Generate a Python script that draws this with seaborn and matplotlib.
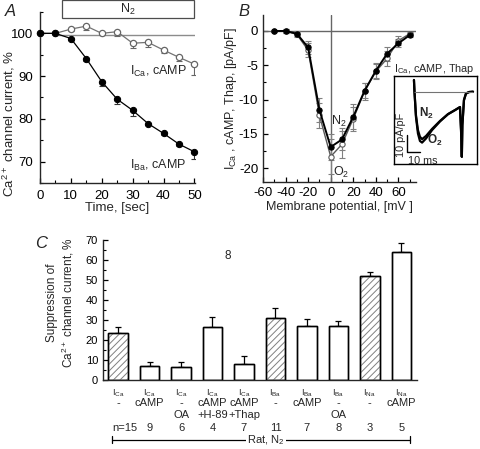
import matplotlib
matplotlib.use('Agg')
import numpy as np
import pandas as pd
import matplotlib.pyplot as plt
from matplotlib.patches import Rectangle
from matplotlib.ticker import MultipleLocator
import seaborn as sns

# Panel A: time course under N2 (% of control)
time_s = [0, 5, 10, 15, 20, 25, 30, 35, 40, 45, 50]
ica_camp = [100, 100, 101.0, 101.7, 100.0, 100.4, 97.7, 97.9, 96.1, 94.4, 92.8]
ica_camp_err = [0, 0, 0.4, 0.9, 0.3, 0.9, 1.1, 1.1, 0.8, 0.9, 2.6]
iba_camp = [100, 100, 98.8, 94.1, 88.7, 84.6, 82.0, 78.9, 76.6, 74.1, 72.3]
iba_camp_err = [0, 0, 0.3, 0.5, 1.0, 1.2, 1.4, 0.4, 0.4, 0.4, 1.6]

# Panel B: I-V curves
voltage_mv = [-50, -40, -30, -20, -10, 0, 10, 20, 30, 40, 50, 60, 70]
iv_n2 = [0, 0, -0.4, -2.4, -11.5, -16.9, -15.8, -12.5, -8.7, -5.8, -3.3, -1.8, -0.6]
iv_n2_err = [0.1, 0.3, 0.4, 1.0, 1.8, 1.9, 1.6, 1.8, 1.1, 1.1, 1.0, 0.6, 0.3]
iv_o2 = [0, 0, -0.5, -2.8, -12.3, -18.3, -16.5, -12.8, -8.8, -5.9, -4.0, -1.4, -0.4]
iv_o2_err = [0.1, 0.3, 0.4, 1.0, 1.8, 2.5, 2.0, 1.7, 1.2, 1.1, 1.1, 0.7, 0.3]

# inset current trace (ms, pA/pF)
trace_t = [15.0, 15.4, 16.5, 18.0, 19.5, 21.1, 24.1, 28.6, 34.6, 40.6, 45.9, 49.6,
           50.4, 51.0, 51.4, 52.6, 54.1, 56.4, 59.4]
trace_n2 = [7.0, 0, -14, -23, -27, -28.4, -26.5, -22.3, -17.5, -13.4, -11.0, -9.2,
            -23, -39, -20, -5, -1.1, -0.2, 0]
trace_o2 = [7.0, 0, -15, -25, -29.5, -30.5, -28.0, -23.0, -17.8, -13.5, -11.0, -9.2,
            -23, -39, -20, -5, -1.1, -0.2, 0]

# Panel C: suppression by N2
cond_current = ['I$_{Ca}$'] * 5 + ['I$_{Ba}$'] * 3 + ['I$_{Na}$'] * 2
cond_camp = ['-', 'cAMP', '-', 'cAMP', 'cAMP', '-', 'cAMP', '-', '-', 'cAMP']
cond_extra = ['', '', 'OA', '+H-89', '+Thap', '', '', 'OA', '', '']
n_cells = ['n=15', '9', '6', '4', '7', '11', '7', '8', '3', '5']
suppression = [23.3, 7.0, 6.7, 26.3, 8.0, 31.2, 27.2, 27.2, 52.2, 64.2]
suppression_err = [3.0, 2.2, 2.1, 5.0, 4.2, 5.0, 3.1, 2.3, 2.0, 4.1]
hatched = [True, False, False, False, False, True, False, False, True, False]

sns.set_style('ticks')
plt.rcParams['font.family'] = ['Liberation Sans', 'DejaVu Sans']
plt.rcParams['mathtext.default'] = 'regular'
plt.rcParams['axes.unicode_minus'] = False
plt.rcParams['hatch.linewidth'] = 0.7
plt.rcParams['axes.linewidth'] = 1.0

W, H = 480, 449
fig = plt.figure(figsize=(4.8, 4.49), dpi=100)


def px_axes(x0, y0, x1, y1):
    return fig.add_axes([x0 / W, 1 - y1 / H, (x1 - x0) / W, (y1 - y0) / H])


def style(ax, pad):
    sns.despine(ax=ax)
    ax.tick_params(which='both', direction='in', colors='black', pad=pad)
    ax.tick_params(which='major', length=3.5, width=0.9)
    ax.tick_params(which='minor', length=2, width=0.8)


# ---- A ----
axA = px_axes(40, 12, 195, 183)
sns.lineplot(x=time_s, y=ica_camp, ax=axA, color='0.45', lw=0.9, marker='o',
             markersize=4.5, markerfacecolor='white', markeredgecolor='0.4',
             markeredgewidth=0.9, clip_on=False, zorder=4)
sns.lineplot(x=time_s, y=iba_camp, ax=axA, color='black', lw=0.9, marker='o',
             markersize=4.5, markerfacecolor='black', markeredgecolor='black',
             clip_on=False, zorder=4)
axA.errorbar(time_s, ica_camp, yerr=[ica_camp_err, np.zeros(len(time_s))], fmt='none',
             ecolor='0.4', elinewidth=0.8, capsize=2, capthick=0.8, zorder=3)
axA.errorbar(time_s, iba_camp, yerr=[iba_camp_err, np.zeros(len(time_s))], fmt='none',
             ecolor='0.2', elinewidth=0.8, capsize=2, capthick=0.8, zorder=3)
axA.hlines(99.7, 5, 50.2, color='0.55', lw=1, zorder=2)
axA.set_xlim(0, 50.2)
axA.set_ylim(65, 105)
axA.xaxis.set_major_locator(MultipleLocator(10))
axA.xaxis.set_minor_locator(MultipleLocator(5))
axA.yaxis.set_minor_locator(MultipleLocator(5))
axA.set_yticks([70, 80, 90, 100])
style(axA, 5)
axA.tick_params(labelsize=9.5)
axA.add_patch(Rectangle((7, 103.6), 43, 4.3, fill=False, ec='0.3', lw=0.9, clip_on=False))
axA.text(28.5, 105.7, 'N$_2$', ha='center', va='center', fontsize=9)
axA.text(29.2, 91.0, 'I$_{Ca}$, cAMP', ha='left', va='center', fontsize=9)
axA.text(29.2, 69.0, 'I$_{Ba}$, cAMP', ha='left', va='center', fontsize=9)
axA.set_xlabel('Time, [sec]', fontsize=9.5)
axA.set_ylabel('Ca$^{2+}$ channel current, %', fontsize=9.5)
axA.xaxis.set_label_coords(0.5, -0.11)
axA.yaxis.set_label_coords(-0.15, 0.35)

# ---- B ----
axB = px_axes(263, 15, 416, 182)
axB.axhline(0, color='0.4', lw=1, zorder=1)
axB.axvline(0, color='0.4', lw=1, zorder=1)
axB.errorbar(voltage_mv, iv_o2, yerr=iv_o2_err, fmt='none', ecolor='0.5',
             elinewidth=0.8, capsize=2, capthick=0.8, zorder=2)
axB.errorbar(voltage_mv, iv_n2, yerr=iv_n2_err, fmt='none', ecolor='0.5',
             elinewidth=0.8, capsize=2, capthick=0.8, zorder=2)
sns.lineplot(x=voltage_mv, y=iv_o2, ax=axB, color='0.35', lw=1.0, marker='o',
             markersize=3.8, markerfacecolor='white', markeredgecolor='0.35',
             markeredgewidth=0.8, zorder=3)
sns.lineplot(x=voltage_mv, y=iv_n2, ax=axB, color='black', lw=1.4, marker='o',
             markersize=3.8, markerfacecolor='black', markeredgecolor='black', zorder=4)
axB.set_xlim(-60, 75.6)
axB.set_ylim(-22.0, 2.33)
axB.xaxis.set_minor_locator(MultipleLocator(10))
axB.yaxis.set_minor_locator(MultipleLocator(2.5))
axB.set_xticks([-60, -40, -20, 0, 20, 40, 60])
axB.set_yticks([0, -5, -10, -15, -20])
style(axB, 3.5)
axB.tick_params(labelsize=9.5)
axB.text(7.3, -13.2, 'N$_2$', ha='center', va='center', fontsize=9)
axB.text(8.8, -20.6, 'O$_2$', ha='center', va='center', fontsize=9)
axB.set_xlabel('Membrane potential, [mV ]', fontsize=9)
axB.set_ylabel('I$_{Ca}$ , cAMP, Thap, [pA/pF]', fontsize=9)
axB.xaxis.set_label_coords(0.5, -0.115)
axB.yaxis.set_label_coords(-0.16, 0.5)
fig.text(394 / W, 1 - 69 / H, 'I$_{Ca}$, cAMP, Thap', ha='left', va='center', fontsize=7.8)

# inset
axI = px_axes(394, 76, 477, 164)
axI.plot(trace_t, trace_o2, color='black', lw=1.6, solid_joinstyle='round')
axI.plot(trace_t, trace_n2, color='black', lw=1.6, solid_joinstyle='round')
axI.hlines(0, trace_t[0], trace_t[-1], color='0.45', lw=0.8)
axI.plot([9.5, 9.5, 19.5], [-26, -36, -36], color='black', lw=1.0)
axI.text(5.2, -26, '10 pA/pF', rotation=90, ha='center', va='center', fontsize=7.8)
axI.text(10.2, -38.5, '10 ms', ha='left', va='top', fontsize=7.8)
axI.text(24.5, -13, 'N$_2$', ha='center', va='center', fontsize=8.5, fontweight='bold')
axI.text(30.5, -29, 'O$_2$', ha='center', va='center', fontsize=8.5, fontweight='bold')
axI.set_xlim(0, 62.4)
axI.set_ylim(-43.3, 9.4)
axI.set_xticks([])
axI.set_yticks([])
for sp in axI.spines.values():
    sp.set_linewidth(1.0)
    sp.set_color('black')

# ---- C ----
axC = px_axes(103, 239.5, 417, 380)
df = pd.DataFrame({'cond': [f'c{i}' for i in range(len(suppression))],
                   'supp': suppression})
sns.barplot(data=df, x='cond', y='supp', ax=axC, color='white', saturation=1,
            edgecolor='black', linewidth=1.0, width=0.62, errorbar=None, zorder=2)
xs = np.arange(len(suppression))
axC.errorbar(xs, suppression, yerr=[np.zeros(len(xs)), suppression_err], fmt='none',
             ecolor='black', elinewidth=0.9, capsize=2.5, capthick=0.9, zorder=1)
hx = [x for x, h in zip(xs, hatched) if h]
hv = [v for v, h in zip(suppression, hatched) if h]
axC.bar(hx, hv, width=0.62, fill=False, hatch='/////', edgecolor='0.5', lw=0, zorder=3)
axC.bar(xs, suppression, width=0.62, fill=False, edgecolor='black', lw=1.0, zorder=4)
axC.set_xlim(-0.48, 9.5)
axC.set_ylim(0, 70.3)
axC.yaxis.set_major_locator(MultipleLocator(10))
axC.yaxis.set_minor_locator(MultipleLocator(5))
style(axC, 3.5)
axC.tick_params(axis='y', labelsize=8)
axC.set_xticks([])
axC.set_xlabel('')
axC.set_ylabel('Suppression of\nCa$^{2+}$ channel current, %', fontsize=8.5, linespacing=1.15)
axC.yaxis.set_label_coords(-0.085, 0.55)
axC.text(3.5, 62, '8', ha='center', va='center', fontsize=8.5)

tr = axC.get_xaxis_transform()
for i in range(len(xs)):
    axC.text(xs[i], -0.092, cond_current[i], transform=tr, ha='center', va='center', fontsize=6.5)
    axC.text(xs[i], -0.163, cond_camp[i], transform=tr, ha='center', va='center', fontsize=8)
    axC.text(xs[i], -0.248, cond_extra[i], transform=tr, ha='center', va='center', fontsize=8)
    axC.text(xs[i] + (0.2 if i == 0 else 0), -0.34, n_cells[i], transform=tr,
             ha='center', va='center', fontsize=8)
axC.plot([-0.2, 9.28], [-0.426, -0.426], transform=tr, color='black', lw=0.9,
         clip_on=False)
axC.plot([-0.2, -0.2], [-0.45, -0.40], transform=tr, color='black', lw=0.9, clip_on=False)
axC.plot([9.28, 9.28], [-0.45, -0.40], transform=tr, color='black', lw=0.9, clip_on=False)
axC.text(4.7, -0.426, 'Rat, N$_2$', transform=tr, ha='center', va='center', fontsize=8,
         bbox=dict(boxstyle='square,pad=0.15', fc='white', ec='none'))

# panel letters
fig.text(5 / W, 1 - 12 / H, 'A', fontsize=12, style='italic', va='center', ha='left')
fig.text(238 / W, 1 - 12 / H, 'B', fontsize=12, style='italic', va='center', ha='left')
fig.text(35 / W, 1 - 244 / H, 'C', fontsize=12, style='italic', va='center', ha='left')

fig.savefig('out.png', dpi=100)
